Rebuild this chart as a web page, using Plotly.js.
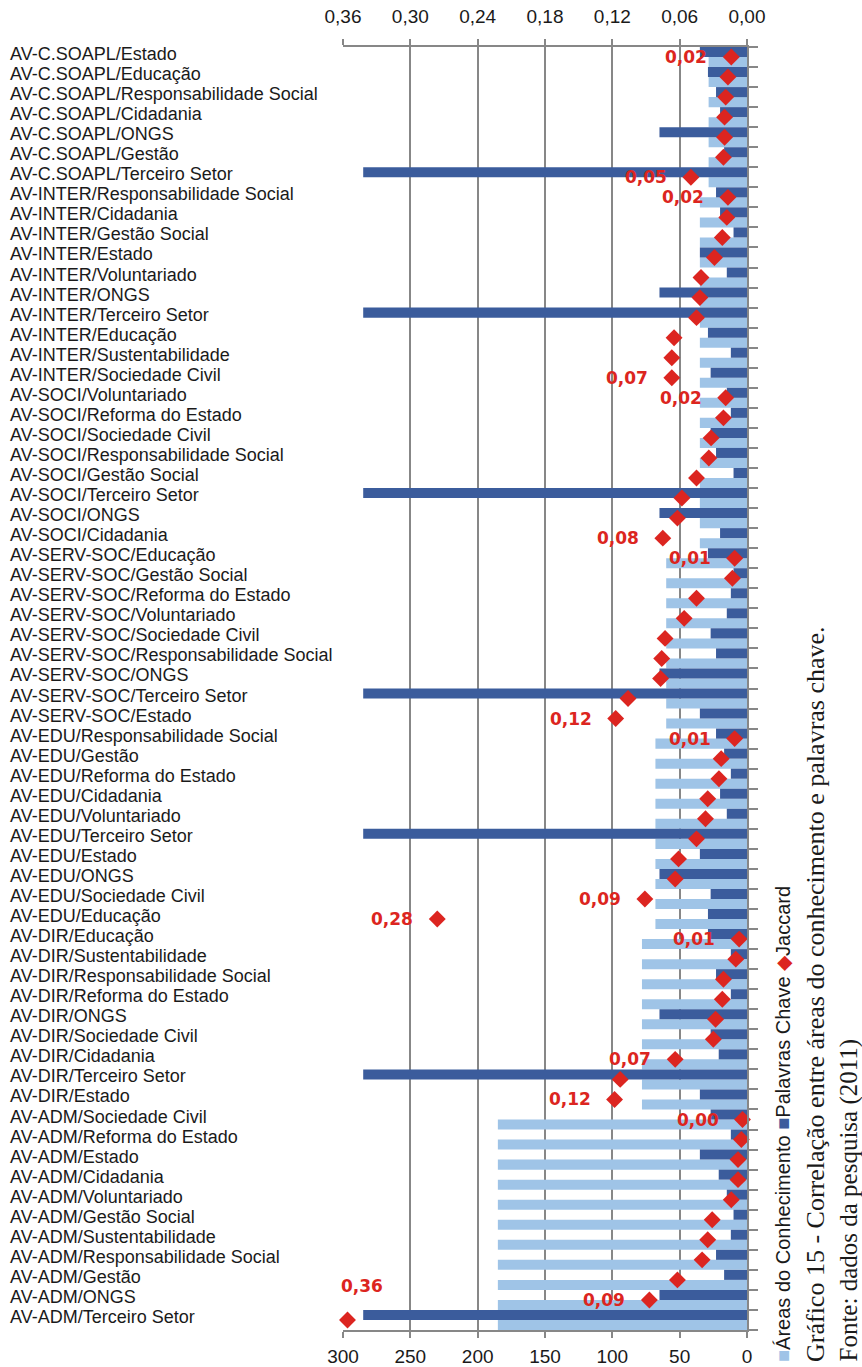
<!DOCTYPE html>
<html>
<head>
<meta charset="utf-8">
<script src="https://cdn.plot.ly/plotly-3.0.1.min.js"></script>
<style>
  html, body { margin: 0; padding: 0; background: #ffffff; }
  #chart { width: 862px; height: 1367px; }
</style>
</head>
<body>
<div id="chart"></div>
<script>
// ---------- DATA ----------
const categories = [
  "AV-C.SOAPL/Estado",
  "AV-C.SOAPL/Educação",
  "AV-C.SOAPL/Responsabilidade Social",
  "AV-C.SOAPL/Cidadania",
  "AV-C.SOAPL/ONGS",
  "AV-C.SOAPL/Gestão",
  "AV-C.SOAPL/Terceiro Setor",
  "AV-INTER/Responsabilidade Social",
  "AV-INTER/Cidadania",
  "AV-INTER/Gestão Social",
  "AV-INTER/Estado",
  "AV-INTER/Voluntariado",
  "AV-INTER/ONGS",
  "AV-INTER/Terceiro Setor",
  "AV-INTER/Educação",
  "AV-INTER/Sustentabilidade",
  "AV-INTER/Sociedade Civil",
  "AV-SOCI/Voluntariado",
  "AV-SOCI/Reforma do Estado",
  "AV-SOCI/Sociedade Civil",
  "AV-SOCI/Responsabilidade Social",
  "AV-SOCI/Gestão Social",
  "AV-SOCI/Terceiro Setor",
  "AV-SOCI/ONGS",
  "AV-SOCI/Cidadania",
  "AV-SERV-SOC/Educação",
  "AV-SERV-SOC/Gestão Social",
  "AV-SERV-SOC/Reforma do Estado",
  "AV-SERV-SOC/Voluntariado",
  "AV-SERV-SOC/Sociedade Civil",
  "AV-SERV-SOC/Responsabilidade Social",
  "AV-SERV-SOC/ONGS",
  "AV-SERV-SOC/Terceiro Setor",
  "AV-SERV-SOC/Estado",
  "AV-EDU/Responsabilidade Social",
  "AV-EDU/Gestão",
  "AV-EDU/Reforma do Estado",
  "AV-EDU/Cidadania",
  "AV-EDU/Voluntariado",
  "AV-EDU/Terceiro Setor",
  "AV-EDU/Estado",
  "AV-EDU/ONGS",
  "AV-EDU/Sociedade Civil",
  "AV-EDU/Educação",
  "AV-DIR/Educação",
  "AV-DIR/Sustentabilidade",
  "AV-DIR/Responsabilidade Social",
  "AV-DIR/Reforma do Estado",
  "AV-DIR/ONGS",
  "AV-DIR/Sociedade Civil",
  "AV-DIR/Cidadania",
  "AV-DIR/Terceiro Setor",
  "AV-DIR/Estado",
  "AV-ADM/Sociedade Civil",
  "AV-ADM/Reforma do Estado",
  "AV-ADM/Estado",
  "AV-ADM/Cidadania",
  "AV-ADM/Voluntariado",
  "AV-ADM/Gestão Social",
  "AV-ADM/Sustentabilidade",
  "AV-ADM/Responsabilidade Social",
  "AV-ADM/Gestão",
  "AV-ADM/ONGS",
  "AV-ADM/Terceiro Setor"
];

// Áreas do Conhecimento (light bars)
const areasConhecimento = [
  28.5, 28.5, 28.5, 28.5, 28.5, 28.5, 28.5,
  35, 35, 35, 35, 35, 35, 35, 35, 35, 35,
  35, 35, 35, 35, 35, 35, 35, 35,
  60, 60, 60, 60, 60, 60, 60, 60, 60,
  68, 68, 68, 68, 68, 68, 68, 68, 68, 68,
  78, 78, 78, 78, 78, 78, 78, 78, 78,
  185, 185, 185, 185, 185, 185, 185, 185, 185, 185, 185
];

// Palavras Chave (dark bars)
const palavrasChave = [
  35, 29, 23, 20, 65, 17, 285,
  23, 20, 10, 35, 15, 65, 285, 29, 12, 27,
  15, 12, 27, 23, 10, 285, 65, 20,
  29, 10, 12, 15, 27, 23, 65, 285, 35,
  23, 17, 12, 20, 15, 285, 35, 65, 27, 29,
  29, 12, 23, 12, 65, 27, 21, 285, 35,
  27, 12, 35, 21, 15, 10, 12, 23, 17, 65, 285
];

// Jaccard (diamonds, top axis)
const jaccard = [
  0.014, 0.017, 0.019, 0.020, 0.020, 0.021, 0.050,
  0.017, 0.018, 0.022, 0.029, 0.041, 0.042, 0.045, 0.065, 0.067, 0.067,
  0.019, 0.021, 0.032, 0.034, 0.045, 0.058, 0.062, 0.075,
  0.011, 0.013, 0.045, 0.056, 0.073, 0.076, 0.077, 0.106, 0.117,
  0.011, 0.023, 0.025, 0.035, 0.037, 0.045, 0.061, 0.064, 0.091, 0.276,
  0.007, 0.010, 0.021, 0.022, 0.028, 0.030, 0.064, 0.113, 0.118,
  0.004, 0.005, 0.008, 0.008, 0.014, 0.031, 0.035, 0.040, 0.062, 0.087, 0.356
];

const jaccardLabels = [
  "0,02", "", "", "", "", "", "0,05",
  "0,02", "", "", "", "", "", "", "", "", "0,07",
  "0,02", "", "", "", "", "", "", "0,08",
  "0,01", "", "", "", "", "", "", "", "0,12",
  "0,01", "", "", "", "", "", "", "", "0,09", "0,28",
  "0,01", "", "", "", "", "", "0,07", "", "0,12",
  "0,00", "", "", "", "", "", "", "", "", "0,09", "0,36"
];

const bottomTickVals = [0, 50, 100, 150, 200, 250, 300];
const bottomTickText = ["0", "50", "100", "150", "200", "250", "300"];
const topTickVals = [0, 0.06, 0.12, 0.18, 0.24, 0.30, 0.36];
const topTickText = ["0,00", "0,06", "0,12", "0,18", "0,24", "0,30", "0,36"];

const legendNames = ["Áreas do Conhecimento", "Palavras Chave", "Jaccard"];
const captionText = "Gráfico 15 - Correlação entre áreas do conhecimento e palavras chave.";
const sourceText = "Fonte: dados da pesquisa (2011)";

// ---------- STYLE ----------
const LIGHT = "#9fc4e7";
const DARK = "#3b5c9c";
const RED = "#dc2520";
const GRID = "#878787";

const W = 862, H = 1367;
const mL = 343, mR = 115, mT = 47, mB = 37;
const plotW = W - mL - mR, plotH = H - mT - mB;
const px2paperX = (px) => (px - mL) / plotW;
const px2paperY = (py) => (H - mB - py) / plotH;

const idx = categories.map((_, i) => i);

const traces = [
  {
    type: "bar", orientation: "h", name: legendNames[0],
    x: areasConhecimento, y: idx, width: 0.5, offset: 0,
    marker: { color: LIGHT, line: { width: 0 } },
    hoverinfo: "skip"
  },
  {
    type: "bar", orientation: "h", name: legendNames[1],
    x: palavrasChave, y: idx, width: 0.5, offset: -0.5,
    marker: { color: DARK, line: { width: 0 } },
    hoverinfo: "skip"
  },
  {
    type: "scatter", mode: "markers", name: legendNames[2],
    x: jaccard, y: idx, xaxis: "x2", yaxis: "y",
    marker: { symbol: "diamond", size: 13, color: RED, line: { width: 0 } },
    cliponaxis: false,
    hoverinfo: "skip"
  }
];

const annotations = [];
// category labels (left aligned)
categories.forEach((c, i) => {
  annotations.push({
    xref: "paper", yref: "y", x: px2paperX(8), y: i,
    xanchor: "left", yanchor: "middle", align: "left", yshift: 3,
    text: c, showarrow: false,
    font: { family: "Liberation Sans, Arial, sans-serif", size: 18, color: "#1a1a1a" }
  });
});
// Jaccard data labels
const lastIdx = jaccardLabels.length - 1;
jaccardLabels.forEach((t, i) => {
  if (!t) return;
  const edge = i === lastIdx;
  annotations.push({
    xref: "x2", yref: "y", x: jaccard[i], y: i,
    xanchor: edge ? "center" : "right", yanchor: "middle",
    xshift: edge ? 15 : -22, yshift: edge ? 34 : 0,
    text: t, showarrow: false,
    font: { family: "DejaVu Sans, sans-serif", size: 17, color: RED, weight: "bold" }
  });
});

annotations.push({
  xref: "paper", yref: "paper", x: px2paperX(783), y: px2paperY(1364),
  xanchor: "center", yanchor: "bottom", textangle: -90, showarrow: false,
  text: '<span style="color:' + LIGHT + '">■</span>' + legendNames[0] +
        ' <span style="color:' + DARK + '">■</span>' + legendNames[1] +
        ' <span style="color:' + RED + '">◆</span>' + legendNames[2],
  font: { family: "Liberation Sans Narrow, Arial Narrow, sans-serif", size: 20, color: "#1a1a1a" }
});
annotations.push({
  xref: "paper", yref: "paper", x: px2paperX(815), y: px2paperY(1364),
  xanchor: "center", yanchor: "bottom", textangle: -90, showarrow: false,
  text: captionText,
  font: { family: "Liberation Serif, Times New Roman, serif", size: 26, color: "#1a1a1a" }
});
annotations.push({
  xref: "paper", yref: "paper", x: px2paperX(848), y: px2paperY(1364),
  xanchor: "center", yanchor: "bottom", textangle: -90, showarrow: false,
  text: sourceText,
  font: { family: "Liberation Serif, Times New Roman, serif", size: 25, color: "#1a1a1a" }
});

const layout = {
  width: W, height: H,
  margin: { l: mL, r: mR, t: mT, b: mB, pad: 0 },
  paper_bgcolor: "#ffffff", plot_bgcolor: "#ffffff",
  barmode: "overlay", showlegend: false,
  font: { family: "Liberation Sans, Arial, sans-serif", color: "#1a1a1a" },
  xaxis: {
    range: [300, 0], tickvals: bottomTickVals, ticktext: bottomTickText,
    ticks: "outside", ticklen: 6, tickwidth: 2, tickcolor: GRID,
    showgrid: true, gridcolor: GRID, gridwidth: 2,
    showline: true, linecolor: GRID, linewidth: 2, zeroline: false,
    tickfont: { size: 19, color: "#1a1a1a" }, ticklabelstandoff: 2
  },
  xaxis2: {
    overlaying: "x", side: "top", range: [0.36, 0],
    tickvals: topTickVals, ticktext: topTickText,
    ticks: "outside", ticklen: 6, tickwidth: 2, tickcolor: GRID,
    showgrid: false, showline: true, linecolor: GRID, linewidth: 2, zeroline: false,
    tickfont: { size: 19, color: "#1a1a1a" }, ticklabelstandoff: 8
  },
  yaxis: {
    type: "linear", range: [63.5, -0.5], side: "right",
    showticklabels: false, showgrid: false, zeroline: false,
    tickmode: "array", tickvals: categories.map((_, i) => i - 0.5).concat([categories.length - 0.5]),
    ticks: "outside", ticklen: 9, tickwidth: 2, tickcolor: GRID,
    showline: true, linecolor: GRID, linewidth: 2
  },
  annotations: annotations
};

Plotly.newPlot("chart", traces, layout, { displayModeBar: false, staticPlot: true });
</script>
</body>
</html>
